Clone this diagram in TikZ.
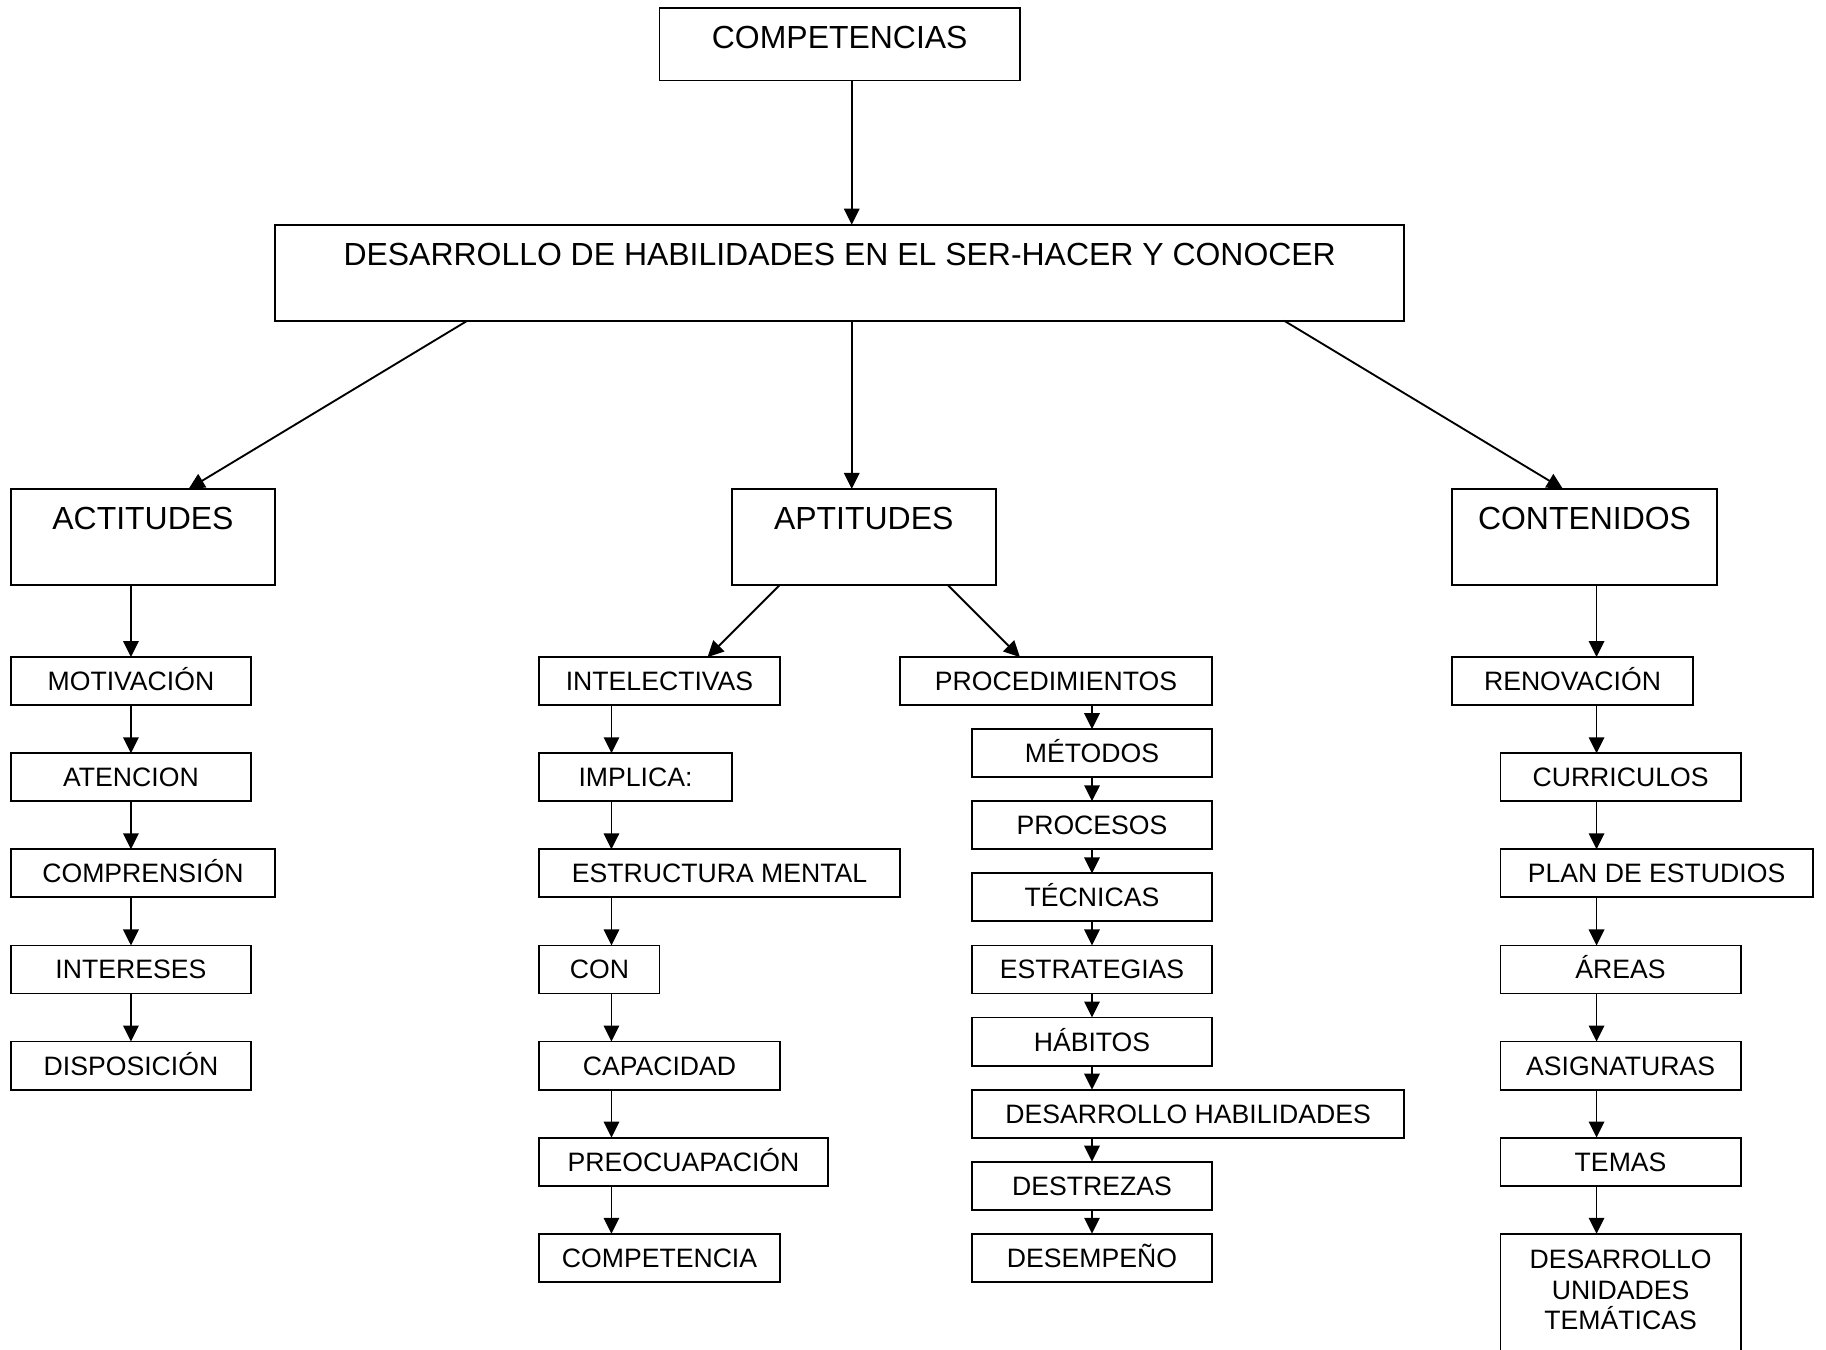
\documentclass[tikz,border=0pt]{standalone}
\usepackage{fontspec}
\setmainfont{Liberation Sans}
\usetikzlibrary{positioning,arrows.meta,calc}

\newcommand{\gridu}{9.025pt}

\begin{document}
\begin{tikzpicture}[
    x=\gridu, y=-\gridu,
    node distance=18.05pt,
    box/.style={rectangle, draw=black, line width=0.7pt, inner sep=0pt, outer sep=0pt, minimum width=10*\gridu, minimum height=2*\gridu, text height=7.16pt, text depth=0pt, font=\fontsize{10}{12}\selectfont},
    headbox/.style={rectangle, draw=black, line width=0.7pt, inner sep=0pt, outer sep=0pt, minimum width=11*\gridu, minimum height=4*\gridu, text height=8.6pt, text depth=14.2pt, font=\fontsize{12}{14}\selectfont, anchor=north west},
    arrow/.style={line width=0.7pt, -{Triangle[length=6pt,width=5.8pt]}}
]
\useasboundingbox (-0.45,-0.35) rectangle (75.55,55.83);
\clip (-0.45,-0.35) rectangle (75.55,55.83);

% Top
\node (competencias) [headbox, minimum width=15*\gridu, minimum height=3*\gridu, text depth=5.2pt] at (27,0) {COMPETENCIAS};
\node (desarrollo) [headbox, minimum width=47*\gridu] at (11,9) {DESARROLLO DE HABILIDADES EN EL SER-HACER Y CONOCER};
\node (actitudes) [headbox] at (0,20) {ACTITUDES};
\node (aptitudes) [headbox] at (30,20) {APTITUDES};
\node (contenidos) [headbox] at (60,20) {CONTENIDOS};

% Actitudes
\node (motivacion) [box, below=27.075pt of actitudes.south west, anchor=north west] {MOTIVACIÓN};
\node (atencion) [box, below=of motivacion.south west, anchor=north west] {ATENCION};
\node (comprension) [box, below=of atencion.south west, anchor=north west, minimum width=11*\gridu] {COMPRENSIÓN};
\node (intereses) [box, below=of comprension.south west, anchor=north west] {INTERESES};
\node (disposicion) [box, below=of intereses.south west, anchor=north west] {DISPOSICIÓN};

% Aptitudes
\node (intelectivas) [box, anchor=north west] at (22,27) {INTELECTIVAS};
\node (implica) [box, below=of intelectivas.south west, anchor=north west, minimum width=8*\gridu] {IMPLICA:};
\node (estructura) [box, below=of implica.south west, anchor=north west, minimum width=15*\gridu] {ESTRUCTURA MENTAL};
\node (con) [box, below=of estructura.south west, anchor=north west, minimum width=5*\gridu] {CON};
\node (capacidad) [box, below=of con.south west, anchor=north west] {CAPACIDAD};
\node (preocupacion) [box, below=of capacidad.south west, anchor=north west, minimum width=12*\gridu] {PREOCUAPACIÓN};
\node (competencia) [box, below=of preocupacion.south west, anchor=north west] {COMPETENCIA};

\node (procedimientos) [box, anchor=north west, minimum width=13*\gridu] at (37,27) {PROCEDIMIENTOS};
\node (metodos) [box, below=9.025pt of procedimientos.south west, anchor=north west, xshift=27.075pt] {MÉTODOS};
\node (procesos) [box, below=9.025pt of metodos.south west, anchor=north west] {PROCESOS};
\node (tecnicas) [box, below=9.025pt of procesos.south west, anchor=north west] {TÉCNICAS};
\node (estrategias) [box, below=9.025pt of tecnicas.south west, anchor=north west] {ESTRATEGIAS};
\node (habitos) [box, below=9.025pt of estrategias.south west, anchor=north west] {HÁBITOS};
\node (habilidades) [box, below=9.025pt of habitos.south west, anchor=north west, minimum width=18*\gridu] {DESARROLLO HABILIDADES};
\node (destrezas) [box, below=9.025pt of habilidades.south west, anchor=north west] {DESTREZAS};
\node (desempeno) [box, below=9.025pt of destrezas.south west, anchor=north west] {DESEMPEÑO};

% Contenidos
\node (renovacion) [box, below=27.075pt of contenidos.south west, anchor=north west] {RENOVACIÓN};
\node (curriculos) [box, below=of renovacion.south west, anchor=north west, xshift=18.05pt] {CURRICULOS};
\node (plan) [box, below=of curriculos.south west, anchor=north west, minimum width=13*\gridu] {PLAN DE ESTUDIOS};
\node (areas) [box, below=of plan.south west, anchor=north west] {ÁREAS};
\node (asignaturas) [box, below=of areas.south west, anchor=north west] {ASIGNATURAS};
\node (temas) [box, below=of asignaturas.south west, anchor=north west] {TEMAS};
\node (unidades) [box, below=of temas.south west, anchor=north west, align=center, text height=36pt, text depth=18.15pt, font=\fontsize{10}{11.4}\selectfont] {DESARROLLO\\UNIDADES\\TEMÁTICAS};

% Arrows
\coordinate (axisA) at (5,0);
\coordinate (axisM) at (35,0);
\coordinate (axisB) at (25,0);
\coordinate (axisC) at (45,0);
\coordinate (axisD) at (66,0);

\draw [arrow] (competencias.south -| axisM) -- (desarrollo.north -| axisM);
\draw [arrow] ($(desarrollo.south west)+(8,0)$) -- ($(actitudes.north west)+(7.4,0)$);
\draw [arrow] (desarrollo.south -| axisM) -- (aptitudes.north -| axisM);
\draw [arrow] ($(desarrollo.south west)+(42,0)$) -- ($(contenidos.north west)+(4.6,0)$);

\draw [arrow] (actitudes.south -| axisA) -- (motivacion.north -| axisA);
\draw [arrow] (motivacion.south -| axisA) -- (atencion.north -| axisA);
\draw [arrow] (atencion.south -| axisA) -- (comprension.north -| axisA);
\draw [arrow] (comprension.south -| axisA) -- (intereses.north -| axisA);
\draw [arrow] (intereses.south -| axisA) -- (disposicion.north -| axisA);

\draw [arrow] ($(aptitudes.south west)+(2,0)$) -- ($(intelectivas.north west)+(7,0)$);
\draw [arrow] ($(aptitudes.south west)+(9,0)$) -- ($(procedimientos.north west)+(5,0)$);
\draw [arrow] (intelectivas.south -| axisB) -- (implica.north -| axisB);
\draw [arrow] (implica.south -| axisB) -- (estructura.north -| axisB);
\draw [arrow] (estructura.south -| axisB) -- (con.north -| axisB);
\draw [arrow] (con.south -| axisB) -- (capacidad.north -| axisB);
\draw [arrow] (capacidad.south -| axisB) -- (preocupacion.north -| axisB);
\draw [arrow] (preocupacion.south -| axisB) -- (competencia.north -| axisB);

\draw [arrow] (procedimientos.south -| axisC) -- (metodos.north -| axisC);
\draw [arrow] (metodos.south -| axisC) -- (procesos.north -| axisC);
\draw [arrow] (procesos.south -| axisC) -- (tecnicas.north -| axisC);
\draw [arrow] (tecnicas.south -| axisC) -- (estrategias.north -| axisC);
\draw [arrow] (estrategias.south -| axisC) -- (habitos.north -| axisC);
\draw [arrow] (habitos.south -| axisC) -- (habilidades.north -| axisC);
\draw [arrow] (habilidades.south -| axisC) -- (destrezas.north -| axisC);
\draw [arrow] (destrezas.south -| axisC) -- (desempeno.north -| axisC);

\draw [arrow] (contenidos.south -| axisD) -- (renovacion.north -| axisD);
\draw [arrow] (renovacion.south -| axisD) -- (curriculos.north -| axisD);
\draw [arrow] (curriculos.south -| axisD) -- (plan.north -| axisD);
\draw [arrow] (plan.south -| axisD) -- (areas.north -| axisD);
\draw [arrow] (areas.south -| axisD) -- (asignaturas.north -| axisD);
\draw [arrow] (asignaturas.south -| axisD) -- (temas.north -| axisD);
\draw [arrow] (temas.south -| axisD) -- (unidades.north -| axisD);

\end{tikzpicture}
\end{document}
